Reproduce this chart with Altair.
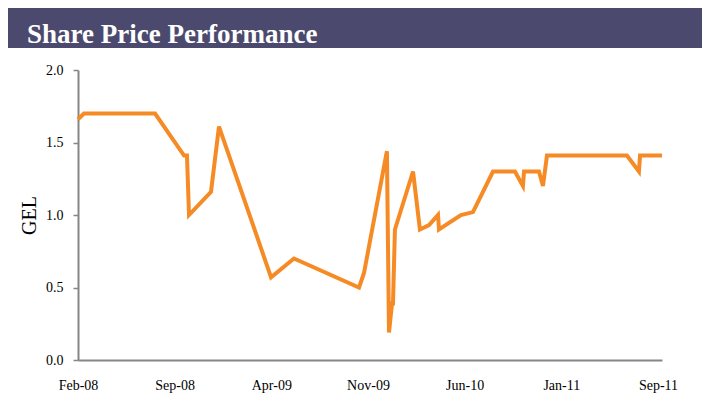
import altair as alt
import pandas as pd

title_text = "Share Price Performance"
y_title = "GEL"

# months since Feb-08
months = [0, 0.43, 5.58, 7.68, 7.89, 8.04, 9.63, 10.21, 13.98, 15.64, 20.35, 20.71,
          22.37, 22.52, 22.74, 22.81, 22.95, 24.26, 24.76, 25.42, 26.07, 26.14,
          27.73, 28.60, 30.05, 31.64, 32.22, 32.30, 33.38, 33.67, 33.96, 39.75,
          40.62, 40.70, 42.29]
prices = [1.66, 1.70, 1.70, 1.41, 1.41, 1.00, 1.16, 1.61, 0.57, 0.70, 0.50, 0.60,
          1.44, 0.19, 0.39, 0.39, 0.90, 1.30, 0.90, 0.93, 1.00, 0.90,
          1.00, 1.02, 1.30, 1.30, 1.20, 1.30, 1.30, 1.20, 1.41, 1.41,
          1.30, 1.41, 1.41]

tick_months = [0, 7, 14, 21, 28, 35, 42]
tick_labels = ["Feb-08", "Sep-08", "Apr-09", "Nov-09", "Jun-10", "Jan-11", "Sep-11"]
y_ticks = [0, 0.5, 1.0, 1.5, 2.0]

df = pd.DataFrame({"m": months, "p": prices})
hdr = pd.DataFrame({"t": [title_text]})

FONT = "Liberation Serif"
label_js = "[" + ",".join("'%s'" % s for s in tick_labels) + "][round(datum.value/7)]"

band = alt.Chart(hdr).mark_rect(color="#4B4A6E").encode(
    x=alt.value(-71), x2=alt.value(624), y=alt.value(-70), y2=alt.value(-22)
)
text = alt.Chart(hdr).mark_text(
    font=FONT, fontSize=27, fontWeight="bold", color="white", align="left", baseline="alphabetic"
).encode(x=alt.value(-51), y=alt.value(-27), text="t:N")

line = alt.Chart(df).mark_line(color="#F68B26", strokeWidth=4, strokeJoin="miter").encode(
    x=alt.X("m:Q", scale=alt.Scale(domain=[0, 42.29], nice=False, zero=False),
            axis=alt.Axis(values=tick_months, labelExpr=label_js, title=None, ticks=False,
                          grid=False, labelFlush=False, labelOverlap=False,
                          labelFont=FONT, labelFontSize=14, labelColor="black", labelPadding=18,
                          domainColor="#868686", domainWidth=2)),
    y=alt.Y("p:Q", scale=alt.Scale(domain=[0, 2], nice=False),
            axis=alt.Axis(values=y_ticks, format=".1f", title=y_title, grid=False,
                          labelFont=FONT, labelFontSize=14, labelColor="black", labelPadding=10,
                          tickSize=5, tickColor="#868686", tickWidth=1.5,
                          domainColor="#868686", domainWidth=2,
                          titleFont=FONT, titleFontSize=20, titleFontWeight="normal",
                          titleColor="black", titlePadding=6)),
)

chart = alt.layer(band, text, line).properties(
    width=584, height=290,
    background="white",
    autosize=alt.AutoSizeParams(type="none"),
    padding={"left": 70, "top": 62, "right": 40, "bottom": 38},
).configure_view(strokeWidth=0, stroke=None)

chart.save("out.html", embed_options={"renderer": "svg", "actions": False})
